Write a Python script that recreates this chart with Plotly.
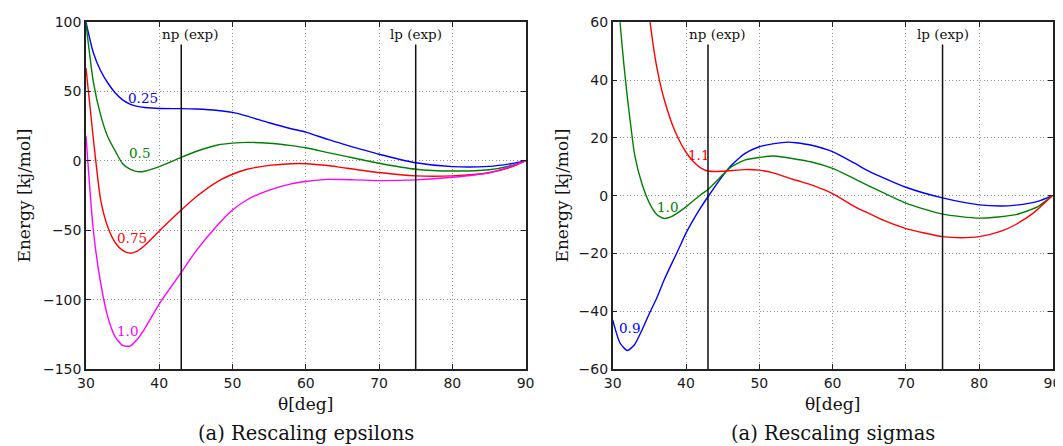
import plotly.graph_objects as go

# ---------------- data: left panel (rescaling epsilons) ----------------
theta_eps = [30, 31, 32, 33, 34, 35, 36, 37, 38, 40, 43, 45, 48, 50, 52, 55,
             58, 60, 63, 65, 70, 75, 80, 85, 88, 90]
eps_025 = [100, 78, 65, 56, 49, 44, 41, 39.3, 38.5, 37.8, 37.7, 37.4, 36.4, 35,
           32.3, 27.5, 23.2, 20.8, 15.5, 12.3, 4.8, -1.3, -4.1, -3.9, -2, 0]
eps_05 = [99, 57, 33, 17, 7, -2, -6, -7.7, -7.4, -4.1, 2.6, 6.8, 11.5, 12.8,
          13.4, 12.7, 11, 9.5, 6, 3.8, -1.7, -6, -7.3, -6.4, -3.5, 0]
eps_075 = [67, 16, -28, -48, -59, -64.5, -66.5, -65, -61, -50.5, -35.4, -26,
           -14.7, -9.6, -6, -3.2, -2, -2, -3.3, -4.8, -8.4, -10.8, -10.8, -8.5,
           -4.5, 0]
eps_10 = [18, -50, -88, -113, -127, -133, -133.5, -128.5, -121, -103, -80.4,
          -65, -46, -35.4, -28, -21, -16.5, -14.8, -13.3, -13.4, -14.2, -13.7,
          -11.8, -8.5, -4, 0]
eps_names = ["0.25", "0.5", "0.75", "1.0"]
eps_label_theta = [37.74, 37.26, 36.32, 35.69]
eps_label_energy = [45.0, 5.4, -55.8, -122.6]

# ---------------- data: right panel (rescaling sigmas) ----------------
sig_09_theta = [30, 31, 32, 33, 34, 35, 36, 37, 38, 39, 40, 42, 43, 45, 46, 48,
                50, 52, 54, 55, 57, 60, 63, 65, 70, 75, 80, 83, 85, 88, 90]
sig_09 = [-43, -51, -53.6, -51.5, -46.5, -40.8, -35.5, -29.3, -23.8, -18.5, -13,
          -4.2, -0.4, 6.8, 10, 14.5, 16.9, 18, 18.5, 18.3, 17.5, 15.2, 11.2, 8.4,
          2.9, -0.8, -3.2, -3.6, -3.3, -2, 0]
sig_10_theta = [30.6, 31, 31.5, 32, 32.5, 33, 34, 35, 36, 37, 38, 40, 42, 43, 45,
                46, 48, 50, 52, 55, 57, 60, 63, 65, 70, 75, 80, 85, 88, 90]
sig_10 = [75, 60, 46, 34, 23.5, 14, 4, -2.5, -6.5, -7.9, -7.3, -3.9, 0.3, 2.1,
          7.2, 9.6, 12.3, 13.2, 13.7, 12.6, 11.7, 9.4, 5.8, 3.3, -2.6, -6.4,
          -7.8, -6.6, -3.8, 0]
sig_11_theta = [34.6, 35, 35.5, 36, 36.5, 37, 38, 39, 40, 41, 42, 43, 45, 48, 50,
                52, 55, 57, 60, 63, 65, 67, 70, 75, 77.5, 80, 83, 85, 87.5, 90]
sig_11 = [70, 62, 52.5, 44.6, 38.5, 33.5, 25.5, 19.5, 15, 11.8, 9.6, 8.5, 8.4, 9,
          8.8, 7.8, 5.3, 3.8, 0.7, -3.8, -6.2, -8.6, -11.4, -14.2, -14.6, -14.2,
          -12.3, -10, -5.8, 0]
sig_names = ["0.9", "1.0", "1.1"]
sig_label_theta = [32.32, 37.43, 41.64]
sig_label_energy = [-45.9, -3.9, 14.2]

# experimental reference angles
exp_theta = [43, 75]
exp_names = ["np (exp)", "lp (exp)"]
exp_label_theta = [44.2, 75.0]

x_ticks = [30, 40, 50, 60, 70, 80, 90]
y_ticks_eps = [-150, -100, -50, 0, 50, 100]
y_ticks_sig = [-60, -40, -20, 0, 20, 40, 60]
captions = ["(a) Rescaling epsilons", "(a) Rescaling sigmas"]
x_title = "θ[deg]"
y_title = "Energy [kj/mol]"

# ---------------- styles ----------------
BLUE, GREEN, RED, MAGENTA = "#0000ff", "#008000", "#ff0000", "#ff00ff"
SERIF = "DejaVu Serif"
SANS = "DejaVu Sans"
LW = 1.4

fig = go.Figure()

eps_series = [eps_025, eps_05, eps_075, eps_10]
eps_colors = [BLUE, GREEN, RED, MAGENTA]
for vals, col, name in zip(eps_series, eps_colors, eps_names):
    fig.add_trace(go.Scatter(x=theta_eps, y=vals, mode="lines", name=name,
                             line=dict(color=col, width=LW, shape="spline", smoothing=0.6),
                             xaxis="x", yaxis="y", showlegend=False, cliponaxis=True))

sig_series = [(sig_09_theta, sig_09), (sig_10_theta, sig_10), (sig_11_theta, sig_11)]
sig_colors = [BLUE, GREEN, RED]
for (th, vals), col, name in zip(sig_series, sig_colors, sig_names):
    fig.add_trace(go.Scatter(x=th, y=vals, mode="lines", name=name,
                             line=dict(color=col, width=LW, shape="spline", smoothing=0.6),
                             xaxis="x2", yaxis="y2", showlegend=False, cliponaxis=True))

# The page body has an 8px margin, so the figure is drawn 8px smaller and
# all layout positions (given in window pixels) are shifted by that offset.
OFF = 8
W, H = 1063 - OFF, 446 - OFF


def px_x(p):
    return (p - OFF) / W


def px_y(p):
    return 1 - (p - OFF) / H


xdom1 = [px_x(86), px_x(525.6)]
xdom2 = [px_x(612.7), px_x(1052.5)]
ydom = [px_y(369), px_y(22.2)]

axis_common = dict(
    showgrid=True, gridcolor="#8c8c8c", griddash="1px,2.5px", gridwidth=1,
    showline=True, linecolor="#222222", linewidth=1.5, mirror="ticks",
    ticks="inside", ticklen=5, tickwidth=1, tickcolor="#222222",
    tickfont=dict(family=SANS, size=14, color="#1a1a1a"), zeroline=False,
    automargin=False,
)

fig.update_layout(
    width=W, height=H,
    margin=dict(l=0, r=0, t=0, b=0, pad=0, autoexpand=False),
    paper_bgcolor="white", plot_bgcolor="white",
    xaxis=dict(domain=xdom1, range=[30, 90], tickvals=x_ticks, anchor="y", **axis_common),
    yaxis=dict(domain=ydom, range=[-150, 100], tickvals=y_ticks_eps, anchor="x", **axis_common),
    xaxis2=dict(domain=xdom2, range=[30, 90], tickvals=x_ticks, anchor="y2", **axis_common),
    yaxis2=dict(domain=ydom, range=[-60, 60], tickvals=y_ticks_sig, anchor="x2", **axis_common),
)

shapes = []
annotations = []
line_top = 0.936
label_y = 0.965
for xa, ya in [("x", "y"), ("x2", "y2")]:
    for th, nm, lth in zip(exp_theta, exp_names, exp_label_theta):
        shapes.append(dict(type="line", xref=xa, yref=ya + " domain",
                           x0=th, x1=th, y0=0, y1=line_top,
                           line=dict(color="#111111", width=1.5)))
        annotations.append(dict(xref=xa, yref=ya + " domain", x=lth, y=label_y,
                                text=nm, showarrow=False, xanchor="center", yanchor="middle",
                                font=dict(family=SERIF, size=13.5, color="#111111")))

for th, en, nm, col in zip(eps_label_theta, eps_label_energy, eps_names, eps_colors):
    annotations.append(dict(xref="x", yref="y", x=th, y=en, text=nm, showarrow=False,
                            xanchor="center", yanchor="middle",
                            font=dict(family=SERIF, size=13.5, color=col)))
for th, en, nm, col in zip(sig_label_theta, sig_label_energy, sig_names, sig_colors):
    annotations.append(dict(xref="x2", yref="y2", x=th, y=en, text=nm, showarrow=False,
                            xanchor="center", yanchor="middle",
                            font=dict(family=SERIF, size=13.5, color=col)))

# axis titles and captions (paper coordinates)
for cx, ylab_x, cap in [(305.8, 23, captions[0]), (832.6, 561, captions[1])]:
    annotations.append(dict(xref="paper", yref="paper", x=px_x(cx), y=px_y(404),
                            text=x_title, showarrow=False, xanchor="center", yanchor="middle",
                            font=dict(family=SERIF, size=17, color="#111111")))
    annotations.append(dict(xref="paper", yref="paper", x=px_x(cx), y=px_y(433),
                            text=cap, showarrow=False, xanchor="center", yanchor="middle",
                            font=dict(family=SERIF, size=19.5, color="#111111")))
    annotations.append(dict(xref="paper", yref="paper", x=px_x(ylab_x), y=px_y(195.5),
                            text=y_title, showarrow=False, xanchor="center", yanchor="middle",
                            textangle=-90,
                            font=dict(family=SERIF, size=17, color="#111111")))

fig.update_layout(shapes=shapes, annotations=annotations)

fig.write_html("out.html")
